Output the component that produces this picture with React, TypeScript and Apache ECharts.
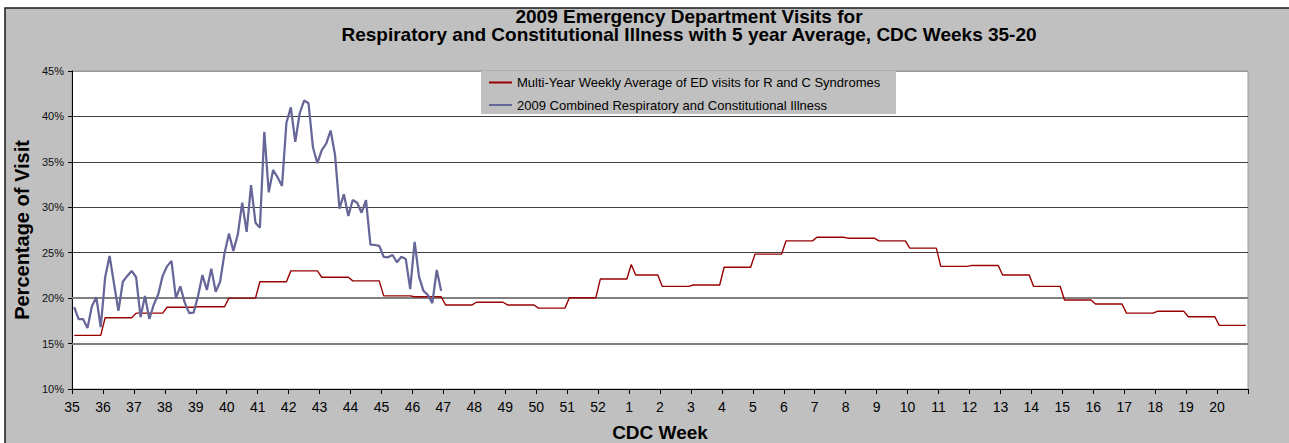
import { useEffect, useRef } from "react";
import * as echarts from "echarts";

// CDC week labels (week ticks on the x axis)
const weekLabels = [
  "35", "36", "37", "38", "39", "40", "41", "42", "43", "44", "45", "46", "47", "48", "49", "50", "51", "52",
  "1", "2", "3", "4", "5", "6", "7", "8", "9", "10", "11", "12", "13", "14", "15", "16", "17", "18", "19", "20",
];

// Multi-year weekly average (%), one value per CDC week 35..20
const avgWeekly = [
  15.9, 17.85, 18.35, 19.0, 19.05, 20.0, 21.8, 23.0, 22.3, 21.9, 20.25, 20.15, 19.25, 19.55, 19.25, 18.9, 20.05, 22.1,
  22.55, 21.3, 21.45, 23.4, 24.85, 26.3, 26.7, 26.6, 26.3, 25.5, 23.5, 23.6, 22.55, 21.3, 19.8, 19.35, 18.35, 18.55, 17.95, 17.0,
];
// daily exceptions to the weekly average: [day index, value]
const avgDailyExceptions: [number, number][] = [[126, 23.7]];

// 2009 combined respiratory & constitutional illness, daily (%), weeks 35..46
const combined2009Daily = [
  19.0, 17.7, 17.7, 16.7, 19.1, 20.1, 16.8,
  22.3, 24.65, 21.6, 18.6, 21.8, 22.45, 23.0,
  22.3, 17.9, 20.25, 17.7, 19.3, 20.4, 22.45,
  23.5, 24.1, 20.0, 21.3, 19.5, 18.35, 18.4,
  20.2, 22.55, 20.9, 23.25, 20.7, 21.8, 24.95,
  27.1, 25.2, 27.0, 30.5, 27.3, 32.45, 28.3,
  27.75, 38.3, 31.65, 34.1, 33.3, 32.35, 39.3,
  41.0, 37.2, 40.35, 41.75, 41.45, 36.6, 34.85,
  36.3, 37.0, 38.45, 35.75, 29.85, 31.45, 29.05,
  30.8, 30.5, 29.4, 30.8, 25.9, 25.85, 25.75,
  24.55, 24.5, 24.75, 23.95, 24.55, 24.3, 21.0,
  26.2, 22.35, 20.8, 20.35, 19.45, 23.1, 20.8,
];

const yMin = 10;
const yMax = 45;
const yStep = 5;
const heavyGridValues = [15, 20];

const avgName = "Multi-Year Weekly Average of ED visits for R and C Syndromes";
const combinedName = "2009 Combined Respiratory and Constitutional Illness";
const titleLines = [
  "2009 Emergency Department Visits for",
  "Respiratory and Constitutional Illness with 5 year Average, CDC Weeks 35-20",
];

const FONT = "Arial, 'Liberation Sans', sans-serif";

export default function App() {
  const ref = useRef<HTMLDivElement>(null);

  useEffect(() => {
    if (!ref.current) return;
    const chart = echarts.init(ref.current, null, { renderer: "svg" });
    const DAYS = 7;
    const totalDays = weekLabels.length * DAYS;

    const avgDaily: number[] = [];
    avgWeekly.forEach((v) => {
      for (let d = 0; d < DAYS; d++) avgDaily.push(v);
    });
    avgDailyExceptions.forEach(([i, v]) => {
      avgDaily[i] = v;
    });
    const avgData = avgDaily.map((v, i) => [i + 0.5, v]);
    const combinedData = combined2009Daily.map((v, i) => [i + 0.5, v]);

    const txt = (x: number, y: number, text: string, font: string, rotation = 0) => ({
      type: "text",
      x,
      y,
      rotation,
      z: 5,
      style: {
        text,
        font,
        fill: "#000",
        align: "center",
        verticalAlign: "middle",
        textAlign: "center",
        textVerticalAlign: "middle",
      },
    });

    chart.setOption({
      animation: false,
      backgroundColor: "#ffffff",
      textStyle: { fontFamily: FONT },
      grid: {
        left: 72,
        top: 71,
        right: 41,
        bottom: 54,
        show: true,
        backgroundColor: "#ffffff",
        borderColor: "#9a9a9a",
        borderWidth: 1,
      },
      xAxis: {
        type: "value",
        min: 0,
        max: totalDays,
        interval: DAYS,
        axisLine: { show: true, onZero: false, lineStyle: { color: "#000", width: 1 } },
        axisTick: { show: true, inside: false, length: 5, lineStyle: { color: "#000" } },
        axisLabel: {
          formatter: (v: number) => weekLabels[Math.round(v / DAYS)] ?? "",
          fontSize: 14,
          color: "#000",
          margin: 11,
          fontFamily: FONT,
          showMaxLabel: true,
          showMinLabel: true,
        },
        splitLine: { show: false },
      },
      yAxis: {
        type: "value",
        min: yMin,
        max: yMax,
        interval: yStep,
        axisLine: { show: true, lineStyle: { color: "#000", width: 1 } },
        axisTick: { show: true, inside: false, length: 4, lineStyle: { color: "#000" } },
        axisLabel: {
          formatter: "{value}%",
          fontSize: 11,
          color: "#111",
          margin: 8,
          fontFamily: FONT,
        },
        splitLine: {
          show: true,
          lineStyle: {
            color: ["#000", "#404040", "#404040", "#404040", "#404040", "#404040", "#404040", "#9a9a9a"],
            width: 1,
          },
        },
      },
      legend: {
        data: [avgName, combinedName],
        orient: "vertical",
        left: 488,
        top: 76,
        padding: 0,
        itemWidth: 23,
        itemHeight: 13,
        itemGap: 9.5,
        z: 6,
        itemStyle: { opacity: 0 },
        textStyle: { fontSize: 13, color: "#000", fontFamily: FONT },
      },
      graphic: [
        {
          type: "rect",
          z: -10,
          shape: { x: 5, y: 8, width: 1300, height: 450 },
          style: { fill: "#c0c0c0", stroke: "#1a1a1a", lineWidth: 1.5 },
        },
        {
          type: "rect",
          z: 5,
          shape: { x: 481, y: 71, width: 415, height: 43 },
          style: { fill: "#c0c0c0" },
        },
        txt(689, 16, titleLines[0], `bold 19px ${FONT}`),
        txt(689, 34.5, titleLines[1], `bold 19px ${FONT}`),
        txt(22, 230, "Percentage of Visit", `bold 20px ${FONT}`, Math.PI / 2),
        txt(660, 432, "CDC Week", `bold 19px ${FONT}`),
      ],
      series: [
        {
          type: "line",
          data: [],
          silent: true,
          z: 1,
          markLine: {
            symbol: "none",
            silent: true,
            z: 1,
            label: { show: false },
            lineStyle: { color: "#808080", width: 2, type: "solid" },
            data: heavyGridValues.map((v) => ({ yAxis: v })),
          },
        },
        {
          name: avgName,
          type: "line",
          data: avgData,
          symbol: "none",
          showSymbol: false,
          z: 3,
          lineStyle: { color: "#990000", width: 1.4 },
          itemStyle: { color: "#990000" },
        },
        {
          name: combinedName,
          type: "line",
          data: combinedData,
          symbol: "none",
          showSymbol: false,
          z: 4,
          lineStyle: { color: "#666699", width: 2.25 },
          itemStyle: { color: "#666699" },
        },
      ],
    });

    return () => {
      chart.dispose();
    };
  }, []);

  return (
    <div
      ref={ref}
      style={{ position: "fixed", left: 0, top: 0, width: 1289, height: 443 }}
    />
  );
}
